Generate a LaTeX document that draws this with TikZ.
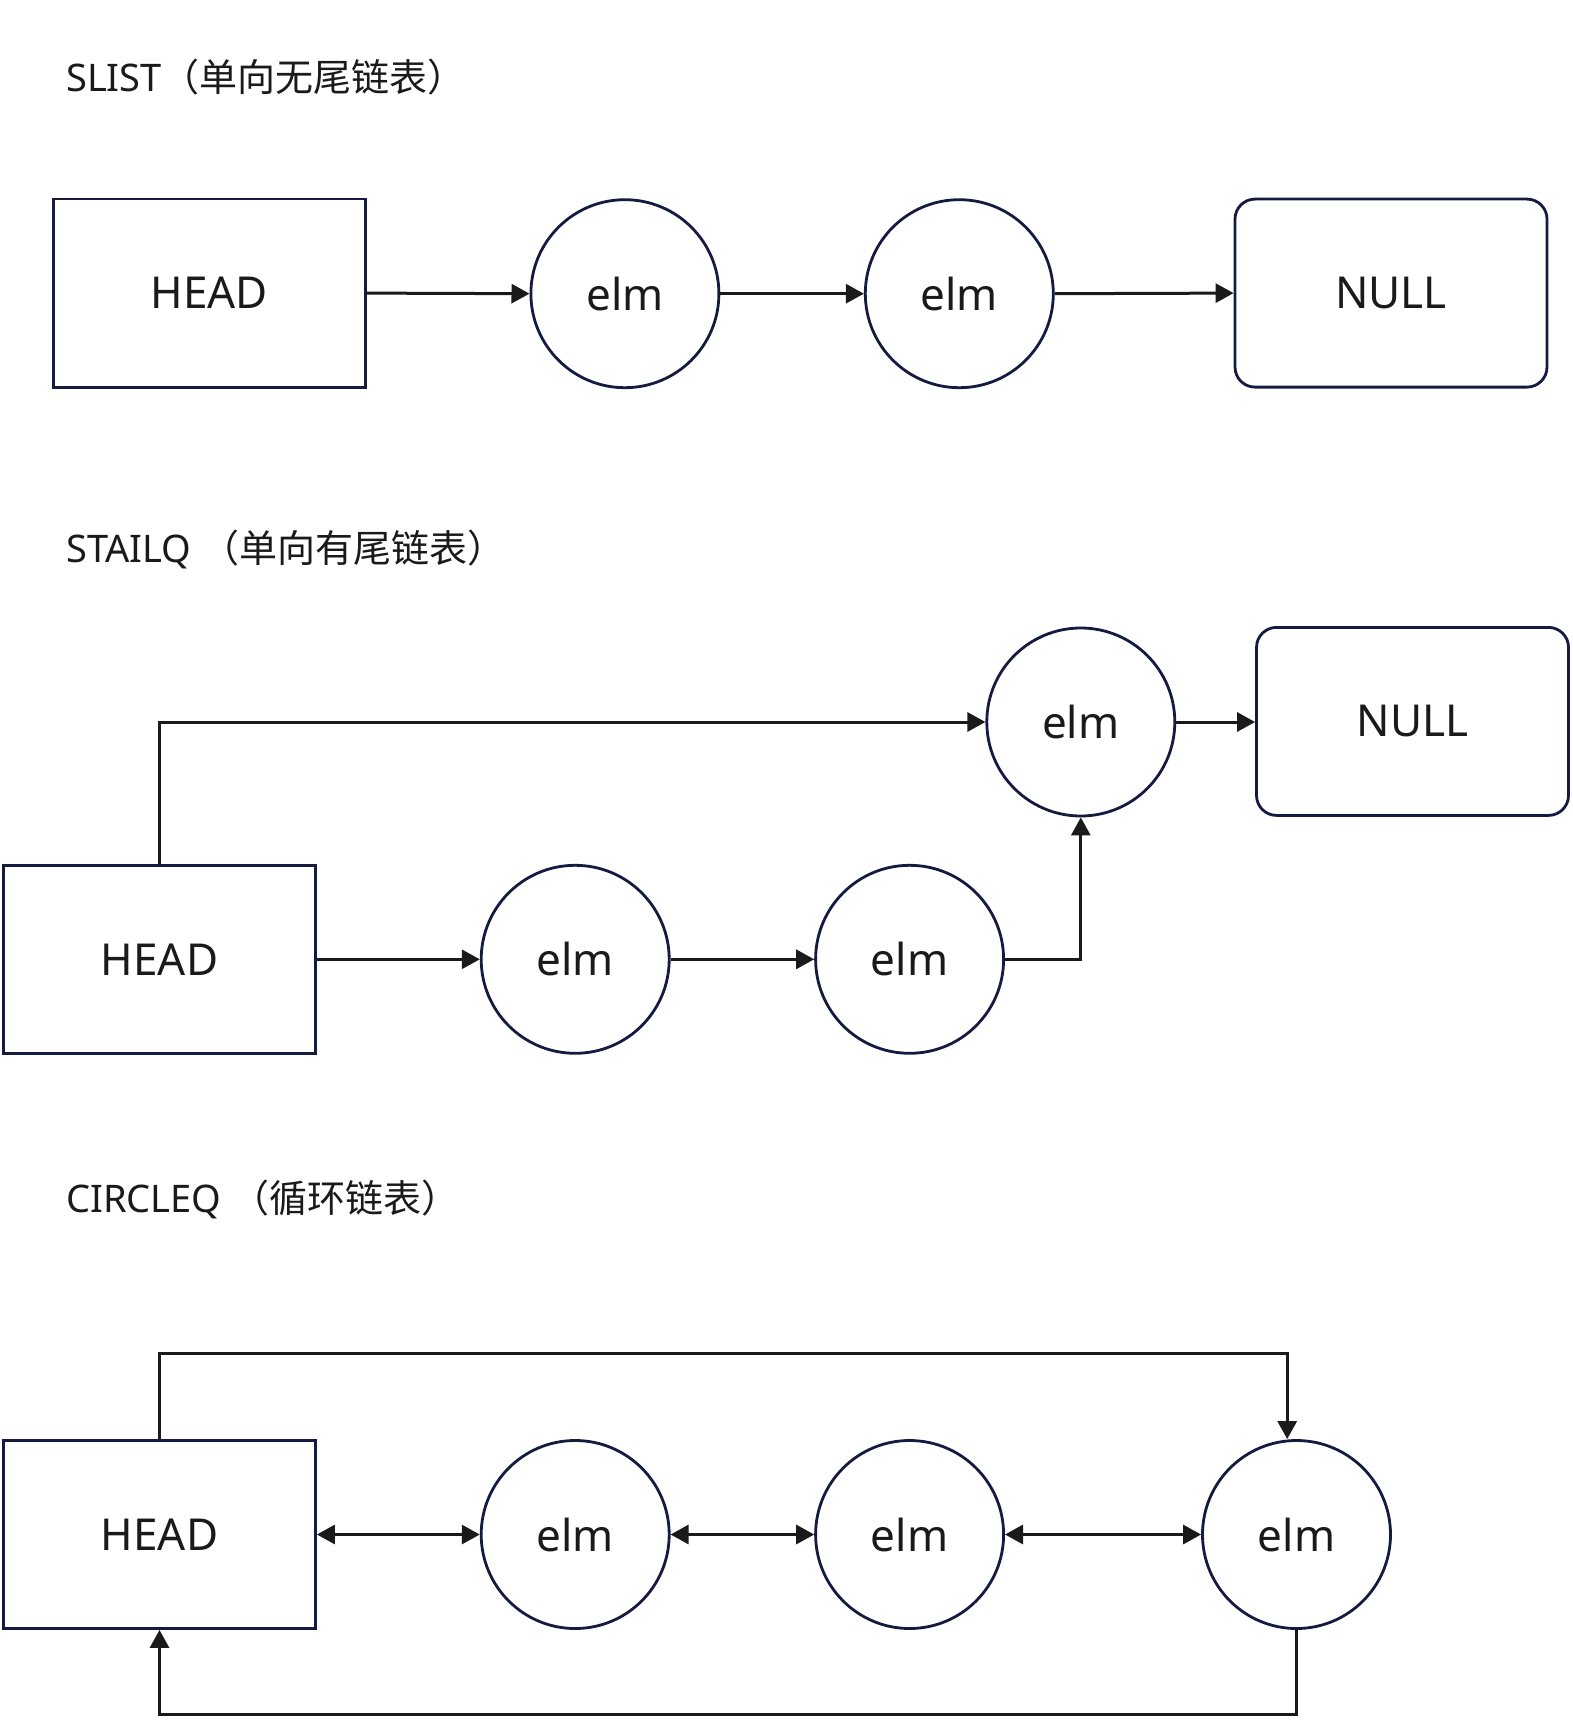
\documentclass[tikz,border=0pt]{standalone}
\usepackage{fontspec}
\setmainfont{Noto Sans}
\newfontfamily\cjk{Noto Sans CJK SC}
\usetikzlibrary{arrows.meta}
\definecolor{shapeline}{HTML}{141A40}
\definecolor{ink}{HTML}{1A1A1A}
\begin{document}
\begin{tikzpicture}[x=1pt,y=-1pt,
  box/.style={draw=shapeline, line width=2.8pt, minimum width=312pt, minimum height=188pt, inner sep=0pt, font=\fontsize{44}{52}\selectfont, text=ink},
  rbox/.style={box, rounded corners=20pt},
  elmnode/.style={circle, draw=shapeline, line width=2.8pt, minimum size=188pt, inner sep=0pt, font=\fontsize{44}{52}\selectfont, text=ink},
  title/.style={anchor=base west, inner sep=0pt, font=\fontsize{38}{44}\selectfont, text=ink},
  conn/.style={draw=ink, line width=3pt, -{Triangle[length=18pt,width=19pt]}},
  dconn/.style={draw=ink, line width=3pt, {Triangle[length=18pt,width=19pt]}-{Triangle[length=18pt,width=19pt]}}
]
\useasboundingbox (0,0) rectangle (1572,1731);

% SLIST
\node[title] (t1) at (66,91.7) {SLIST{\cjk （单向无尾链表）}};
\node[box] (h1) at (209.2,293.1) {HEAD};
\node[elmnode] (e11) at (624.9,293.7) {elm};
\node[elmnode] (e12) at (959.3,293.7) {elm};
\node[rbox] (n1) at (1391,293.1) {NULL};
\draw[conn] (h1.east) -- (e11.west);
\draw[conn] (e11.east) -- (e12.west);
\draw[conn] (e12.east) -- (n1.west);

% STAILQ
\node[title] (t2) at (66,562) {STAILQ {\cjk （单向有尾链表）}};
\node[box] (h2) at (159.5,959.3) {HEAD};
\node[elmnode] (e21) at (575.2,959.3) {elm};
\node[elmnode] (e22) at (909.6,959.3) {elm};
\node[elmnode] (e23) at (1080.8,722) {elm};
\node[rbox] (n2) at (1412.5,721.4) {NULL};
\draw[conn] (h2.east) -- (e21.west);
\draw[conn] (e21.east) -- (e22.west);
\draw[conn] (e22.east) -| (e23.south);
\draw[conn] (h2.north) |- (e23.west);
\draw[conn] (e23.east) -- (e23.east -| n2.west);

% CIRCLEQ
\node[title] (t3) at (66,1212) {CIRCLEQ {\cjk （循环链表）}};
\node[box] (h3) at (159.5,1534.5) {HEAD};
\node[elmnode] (e31) at (575.2,1534.5) {elm};
\node[elmnode] (e32) at (909.6,1534.5) {elm};
\node[elmnode] (e33) at (1296.5,1534.5) {elm};
\draw[dconn] (h3.east) -- (e31.west);
\draw[dconn] (e31.east) -- (e32.west);
\draw[dconn] (e32.east) -- (e33.west);
\coordinate (top3) at (1287.2,1353.4);
\coordinate (bot3) at (159.5,1714.4);
\draw[conn] (h3.north) |- (top3) -- (top3 |- e33.north);
\draw[conn] (e33.south) |- (bot3) -- (h3.south);
\end{tikzpicture}
\end{document}
